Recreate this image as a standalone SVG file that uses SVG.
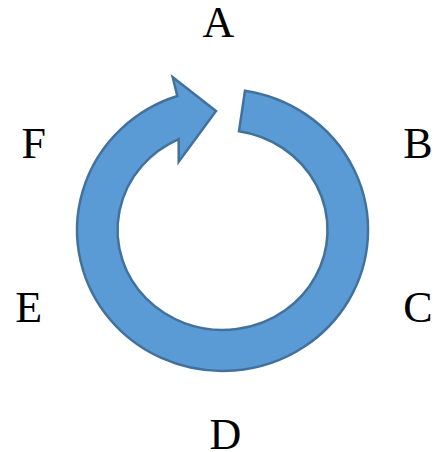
<svg xmlns="http://www.w3.org/2000/svg" width="436" height="452" viewBox="0 0 436 452">
<style>
.lbl{font-family:"Liberation Serif","DejaVu Serif",serif;font-size:44px;fill:#000;text-anchor:middle}
.arrow{fill:#5b9bd5;stroke:#41719c;stroke-width:2.5;stroke-linejoin:miter}
</style>
<rect width="436" height="452" fill="#fff"/>
<g id="connectors">
<path class="arrow" d="M 245,90.7 A 145.5 141 0 1 1 177.3,96 L 172.7,77.3 L 216,111 L 178.7,161.7 L 178.7,139.1 A 105 100 0 1 0 239,131.2 Z"/>
</g>
<g id="node-A"><text class="lbl" x="218.5" y="37">A</text></g>
<g id="node-B"><text class="lbl" x="418" y="158">B</text></g>
<g id="node-C"><text class="lbl" x="418" y="322">C</text></g>
<g id="node-D"><text class="lbl" x="225.5" y="449">D</text></g>
<g id="node-E"><text class="lbl" x="28.7" y="322">E</text></g>
<g id="node-F"><text class="lbl" x="33.7" y="158">F</text></g>
</svg>
